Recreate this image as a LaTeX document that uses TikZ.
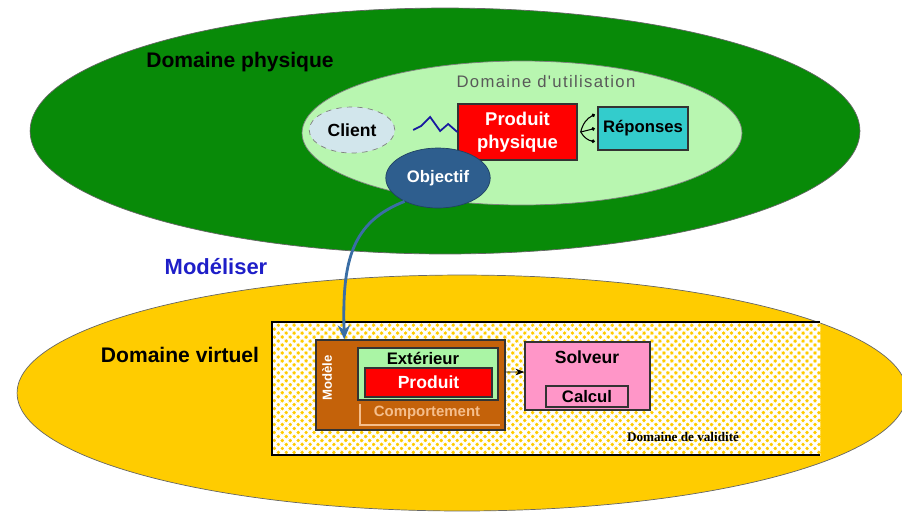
\documentclass[tikz,border=0pt]{standalone}
\usepackage{fontspec}
\setmainfont{Liberation Sans}
\newfontfamily\serifb{Liberation Serif}
\newfontfamily\spaced[LetterSpace=8]{Liberation Sans}
\usetikzlibrary{shapes.geometric,patterns.meta,arrows.meta}
\definecolor{dgreen}{RGB}{8,138,8}
\definecolor{lgreen}{RGB}{184,246,176}
\definecolor{clientc}{RGB}{210,230,236}
\definecolor{repc}{RGB}{51,204,204}
\definecolor{objc}{RGB}{46,94,142}
\definecolor{yell}{RGB}{255,204,0}
\definecolor{brownc}{RGB}{196,98,10}
\definecolor{extc}{RGB}{170,245,165}
\definecolor{pinkc}{RGB}{255,150,200}
\definecolor{modblue}{RGB}{30,30,200}
\definecolor{arrblue}{RGB}{58,110,165}
\definecolor{compc}{RGB}{245,190,140}
\tikzset{
  bigell/.style={ellipse, draw=black!60, line width=0.4pt},
  box/.style={draw=black!80, line width=0.8pt, inner sep=0pt, align=center},
  lbl/.style={font=\bfseries\fontsize{12}{14}\selectfont},
  smallarr/.style={-{Circle[length=2pt]}, line width=0.6pt, black},
}
\begin{document}
\begin{tikzpicture}[x=0.02cm,y=-0.02cm]
\useasboundingbox (0,0) rectangle (902,512);
% physical domain
\node[bigell, fill=dgreen, minimum width=16.6cm, minimum height=4.92cm] (phys) at (445,131) {};
\node[bigell, fill=lgreen, draw=black!50, minimum width=8.8cm, minimum height=2.88cm] (util) at (522,133) {};
\node[lbl] (physlbl) at (240,62) {Domaine physique};
\node[text=black!65, font=\spaced\fontsize{9.5}{11}\selectfont] (utillbl) at (546,82) {Domaine d'utilisation};
\node[ellipse, draw=black!50, dashed, fill=clientc, minimum width=1.6cm, minimum height=0.92cm, font=\bfseries\fontsize{10}{12}\selectfont] (client) at (352,130) {Client};
\node[box, fill=red, text=white, minimum width=2.38cm, minimum height=1.12cm, font=\bfseries\fontsize{10.5}{13}\selectfont] (prod) at (517.5,132) {Produit\\physique};
\node[box, fill=repc, minimum width=1.8cm, minimum height=0.86cm, font=\bfseries\fontsize{9.5}{11}\selectfont] (rep) at (643,128.5) {Réponses};
\node[ellipse, fill=objc, draw=objc!70!black, minimum width=1.84cm, minimum height=1.2cm, text=white, font=\bfseries\fontsize{9.5}{11}\selectfont] (obj) at (438,178) {Objectif};
% wave
\draw[modblue!80!black, line width=1pt] ([xshift=0.36cm]client.east) -- ++(8,-4) -- ++(9,-9) -- ++(10,14) -- ++(8,-7) -- (prod.west);
% small arrows
\draw[smallarr] ([xshift=0.06cm]prod.east) to[bend left=25] ([yshift=0.28cm,xshift=-0.05cm]rep.west);
\draw[smallarr] ([xshift=0.06cm]prod.east) -- ([xshift=-0.05cm]rep.west);
\draw[smallarr] ([xshift=0.06cm]prod.east) to[bend right=25] ([yshift=-0.26cm,xshift=-0.05cm]rep.west);
% virtual domain
\node[bigell, fill=yell, minimum width=17.8cm, minimum height=4.72cm] (virt) at (462,393) {};
\node[lbl] (virtlbl) at (180,355) {Domaine virtuel};
\node[text=modblue, font=\bfseries\fontsize{12.5}{14}\selectfont] (modlbl) at (216,267) {Modéliser};
% validity domain
\node[minimum width=10.96cm, minimum height=2.66cm, fill=yell, inner sep=0pt] (valid) at (546,388.5) {};
\fill[pattern={Hatch[angle=45,distance=3.2pt,line width=1.5pt]}, pattern color=white] (valid.south west) rectangle (valid.north east);
\draw[line width=1.3pt] (valid.north east) -- (valid.north west) -- (valid.south west) -- (valid.south east);
\node[font=\serifb\bfseries\fontsize{7.5}{9}\selectfont] (validlbl) at (683,437) {Domaine de validité};
% model
\node[box, fill=brownc, minimum width=3.78cm, minimum height=1.8cm] (modele) at (410.5,385) {};
\node[rotate=90, text=white, font=\bfseries\fontsize{7.5}{9}\selectfont] (modtxt) at (327,378) {Modèle};
\node[box, fill=extc, minimum width=2.8cm, minimum height=1.04cm] (ext) at (428,374) {};
\node[font=\bfseries\fontsize{9.5}{11}\selectfont] (exttxt) at (423,358) {Extérieur};
\node[box, fill=red, text=white, minimum width=2.54cm, minimum height=0.58cm, font=\bfseries\fontsize{10}{12}\selectfont] (produit) at (428.5,382.5) {Produit};
\node[text=compc, font=\bfseries\fontsize{8.5}{10}\selectfont] (comp) at (427,413) {Comportement};
\coordinate (c1) at (360,404);
\coordinate (c2) at (360,425);
\coordinate (c3) at (500,425);
\draw[compc, line width=0.8pt] (c1) -- (c2) -- (c3);
% solver
\node[box, fill=pinkc, minimum width=2.5cm, minimum height=1.36cm] (solveur) at (587.5,376) {};
\node[font=\bfseries\fontsize{10}{12}\selectfont] (soltxt) at (587,357) {Solveur};
\node[box, minimum width=1.64cm, minimum height=0.42cm, font=\bfseries\fontsize{9.5}{11}\selectfont] (calcul) at (587,396.5) {Calcul};
\draw[-{Stealth[length=5pt]}, line width=0.5pt] ([yshift=0.26cm]modele.east) -- ([yshift=0.08cm]solveur.west);
% modelling arrow
\draw[arrblue, line width=1.6pt, -{Stealth[length=8pt,width=7pt]}] (obj.215) .. controls (352,222) and (342,260) .. ([xshift=0.58cm]modele.north west);
\end{tikzpicture}
\end{document}
